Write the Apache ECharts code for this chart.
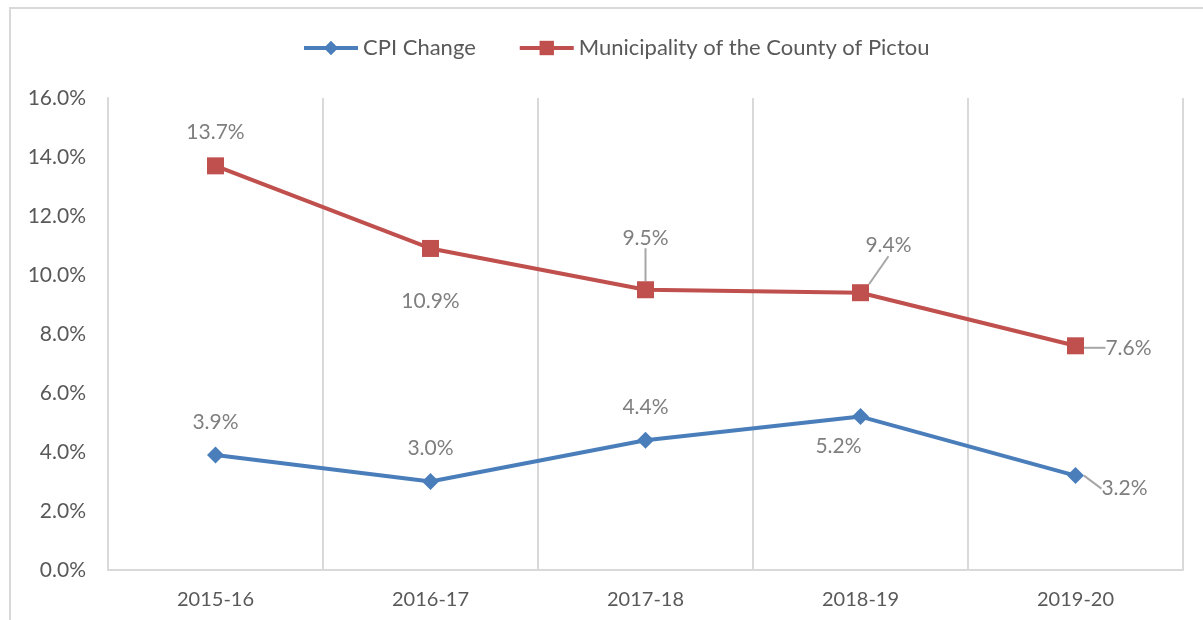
<!DOCTYPE html>
<html>
<head>
<meta charset="utf-8">
<script src="https://cdn.jsdelivr.net/npm/echarts@6/dist/echarts.min.js"></script>
<style>
  html, body { margin: 0; padding: 0; background: #fff; }
  #chart { width: 1203px; height: 620px; }
</style>
</head>
<body>
<div id="chart"></div>
<script>
var years = ['2015-16', '2016-17', '2017-18', '2018-19', '2019-20'];
var cpiChange = [3.9, 3.0, 4.4, 5.2, 3.2];
var pictou = [13.7, 10.9, 9.5, 9.4, 7.6];

// label offsets from the marker, like the hand-placed Excel labels
var cpiOffsets = [[0, -33], [0, -33], [0, -33], [-22, 30], [49, 13]];
var pictouOffsets = [[0, -34], [0, 53], [0, -52], [28, -47], [53, 2]];
var cpiLeader = [false, false, false, false, true];
var pictouLeader = [false, false, true, true, true];

var font = 'Lato';

function items(values, leaders) {
  return values.map(function (v, i) {
    return { value: v, labelLine: { show: leaders[i] } };
  });
}

function layoutFrom(offsets) {
  return function (params) {
    var o = offsets[params.dataIndex];
    return { dx: o[0], dy: o[1] };
  };
}

var chart = echarts.init(document.getElementById('chart'));
chart.setOption({
  animation: false,
  textStyle: { fontFamily: font },
  graphic: [{
    type: 'rect',
    shape: { x: 10, y: 8, width: 1210, height: 640 },
    style: { fill: 'none', stroke: '#d9d9d9', lineWidth: 2 },
    silent: true
  }],
  legend: {
    top: 32,
    left: 297,
    itemWidth: 54,
    itemHeight: 18,
    itemGap: 42,
    lineStyle: { width: 4 },
    textStyle: { fontSize: 22, color: '#595959', fontFamily: font }
  },
  grid: { left: 108, right: 20, top: 98, bottom: 50 },
  xAxis: {
    type: 'category',
    data: years,
    boundaryGap: true,
    axisLine: { lineStyle: { color: '#d9d9d9', width: 2 } },
    axisTick: { show: false },
    splitLine: { show: true, lineStyle: { color: '#d9d9d9', width: 2 } },
    axisLabel: { color: '#595959', fontSize: 20, margin: 20, fontFamily: font }
  },
  yAxis: {
    type: 'value',
    min: 0,
    max: 16,
    interval: 2,
    axisLine: { show: true, lineStyle: { color: '#d9d9d9', width: 2 } },
    splitLine: { show: false },
    axisLabel: {
      color: '#595959', fontSize: 21, margin: 22, fontFamily: font,
      formatter: function (v) { return v.toFixed(1) + '%'; }
    }
  },
  series: [
    {
      name: 'CPI Change',
      type: 'line',
      data: items(cpiChange, cpiLeader),
      symbol: 'diamond',
      symbolSize: 17,
      color: '#4a7ebb',
      lineStyle: { width: 4, color: '#4a7ebb' },
      label: {
        show: true, position: 'inside', color: '#7f7f7f', fontSize: 21, fontFamily: font,
        formatter: function (p) { return p.value.toFixed(1) + '%'; }
      },
      labelLine: { show: false, lineStyle: { color: '#a6a6a6', width: 2 } },
      labelLayout: layoutFrom(cpiOffsets)
    },
    {
      name: 'Municipality of the County of Pictou',
      type: 'line',
      data: items(pictou, pictouLeader),
      symbol: 'rect',
      symbolSize: 17,
      color: '#c0504d',
      lineStyle: { width: 4, color: '#c0504d' },
      label: {
        show: true, position: 'inside', color: '#7f7f7f', fontSize: 21, fontFamily: font,
        formatter: function (p) { return p.value.toFixed(1) + '%'; }
      },
      labelLine: { show: false, lineStyle: { color: '#a6a6a6', width: 2 } },
      labelLayout: layoutFrom(pictouOffsets)
    }
  ]
});
</script>
</body>
</html>
